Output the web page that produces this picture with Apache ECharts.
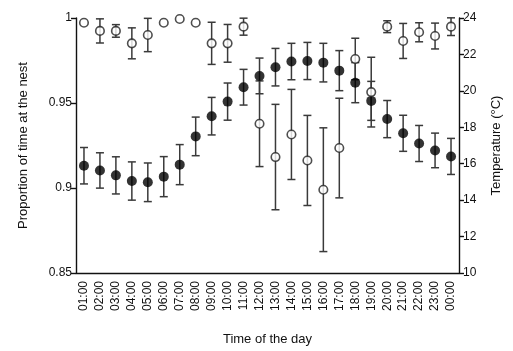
<!DOCTYPE html>
<html>
<head>
<meta charset="utf-8">
<script src="https://cdn.jsdelivr.net/npm/echarts@6/dist/echarts.min.js"></script>
<style>
  html, body { margin: 0; padding: 0; background: #fff; }
  #main { width: 513px; height: 351px; }
</style>
</head>
<body>
<div id="main"></div>
<script>
// hours of the day (x axis)
var hours = ["01:00", "02:00", "03:00", "04:00", "05:00", "06:00", "07:00", "08:00",
  "09:00", "10:00", "11:00", "12:00", "13:00", "14:00", "15:00", "16:00",
  "17:00", "18:00", "19:00", "20:00", "21:00", "22:00", "23:00", "00:00"];

// proportion of time at the nest (open circles, left axis)
var propMean = [0.9972, 0.9924, 0.9924, 0.9851, 0.9900, 0.9972, 0.9994, 0.9972,
  0.9851, 0.9851, 0.9949, 0.9378, 0.9182, 0.9315, 0.9162, 0.8990,
  0.9235, 0.9759, 0.9564, 0.9949, 0.9865, 0.9916, 0.9894, 0.9949];
var propErr = [0, 0.0071, 0.0037, 0.0091, 0.0098, 0, 0, 0,
  0.0124, 0.0111, 0.0050, 0.0252, 0.0310, 0.0265, 0.0265, 0.0364,
  0.0293, 0.0122, 0.0205, 0.0035, 0.0103, 0.0056, 0.0076, 0.0052];

// temperature (filled circles, right axis)
var tempMean = [15.89, 15.63, 15.36, 15.05, 14.98, 15.29, 15.95, 17.50,
  18.61, 19.41, 20.20, 20.82, 21.30, 21.61, 21.64, 21.55,
  21.11, 20.45, 19.45, 18.45, 17.67, 17.11, 16.73, 16.40];
var tempErr = [1.00, 0.97, 1.02, 1.05, 1.06, 1.10, 1.10, 1.06,
  1.03, 1.02, 0.98, 0.98, 1.03, 1.00, 1.02, 1.06,
  1.10, 1.10, 1.07, 1.02, 0.99, 0.99, 0.95, 0.99];

function errData(mean, err) {
  return mean.map(function (m, i) {
    return [i, m - err[i], m + err[i]];
  });
}

function renderErr(params, api) {
  var lo = api.coord([api.value(0), api.value(1)]);
  var hi = api.coord([api.value(0), api.value(2)]);
  var cap = 4;
  var st = { stroke: "#3a3a3a", lineWidth: 1.5 };
  return {
    type: "group",
    children: [
      { type: "line", shape: { x1: lo[0], y1: lo[1], x2: hi[0], y2: hi[1] }, style: st },
      { type: "line", shape: { x1: lo[0] - cap, y1: lo[1], x2: lo[0] + cap, y2: lo[1] }, style: st },
      { type: "line", shape: { x1: hi[0] - cap, y1: hi[1], x2: hi[0] + cap, y2: hi[1] }, style: st }
    ]
  };
}

var axisText = { color: "#111", fontFamily: "Liberation Sans, Arial, sans-serif" };
var lineStyle = { color: "#111", width: 1.4 };

var option = {
  backgroundColor: "#fff",
  animation: false,
  grid: { left: 76, right: 54, top: 18, bottom: 77 },
  xAxis: {
    type: "category",
    data: hours,
    boundaryGap: true,
    name: "Time of the day",
    nameLocation: "middle",
    nameGap: 60,
    nameTextStyle: Object.assign({ fontSize: 13 }, axisText),
    axisLine: { lineStyle: lineStyle },
    axisTick: { alignWithLabel: true, length: 5, lineStyle: lineStyle },
    axisLabel: Object.assign({ rotate: 90, interval: 0, fontSize: 12, margin: 8 }, axisText),
    splitLine: { show: false }
  },
  yAxis: [
    {
      type: "value",
      min: 0.85,
      max: 1,
      interval: 0.05,
      name: "Proportion of time at the nest",
      nameLocation: "middle",
      nameGap: 46,
      nameTextStyle: Object.assign({ fontSize: 13 }, axisText),
      axisLine: { show: true, lineStyle: lineStyle },
      axisTick: { show: true, length: 5, lineStyle: lineStyle },
      axisLabel: Object.assign({ fontSize: 12, margin: 4 }, axisText),
      splitLine: { show: false }
    },
    {
      type: "value",
      min: 10,
      max: 24,
      interval: 2,
      position: "right",
      name: "Temperature (°C)",
      nameLocation: "middle",
      nameGap: 31,
      nameRotate: 90,
      nameTextStyle: Object.assign({ fontSize: 13 }, axisText),
      axisLine: { show: true, lineStyle: lineStyle },
      axisTick: { show: true, length: 5, lineStyle: lineStyle },
      axisLabel: Object.assign({ fontSize: 12, margin: 4 }, axisText),
      splitLine: { show: false }
    }
  ],
  series: [
    {
      type: "custom",
      yAxisIndex: 1,
      renderItem: renderErr,
      data: errData(tempMean, tempErr),
      z: 2
    },
    {
      type: "custom",
      yAxisIndex: 0,
      renderItem: renderErr,
      data: errData(propMean, propErr).filter(function (d, i) { return propErr[i] > 0; }),
      z: 2
    },
    {
      type: "scatter",
      yAxisIndex: 1,
      data: tempMean,
      symbol: "circle",
      symbolSize: 10,
      itemStyle: { color: "#000", borderColor: "#000", borderWidth: 0 },
      z: 3
    },
    {
      type: "scatter",
      yAxisIndex: 0,
      data: propMean,
      symbol: "circle",
      symbolSize: 8.5,
      itemStyle: { color: "#fff", borderColor: "#222", borderWidth: 1.6 },
      z: 4
    }
  ]
};

var chart = echarts.init(document.getElementById("main"));
chart.setOption(option);
</script>
</body>
</html>
